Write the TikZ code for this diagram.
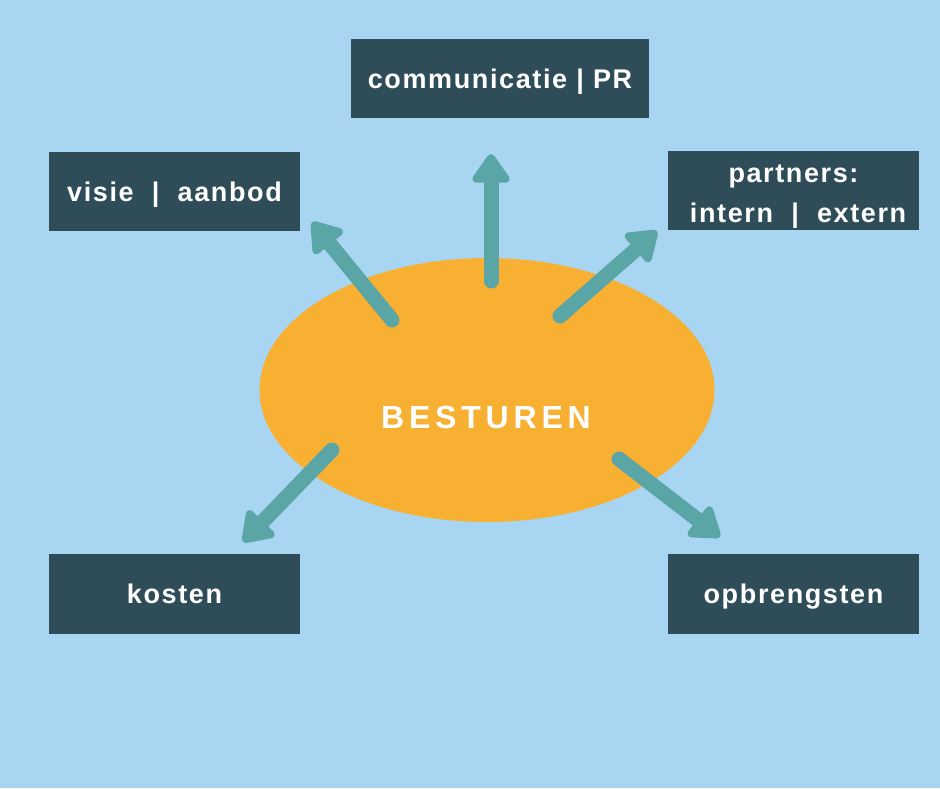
\documentclass[tikz,border=0pt]{standalone}
\usepackage{fontspec}
\setmainfont{Liberation Sans}
\newfontfamily\boxfont[LetterSpace=6]{Liberation Sans}
\newfontfamily\bigfont[LetterSpace=15]{Liberation Sans}
\usetikzlibrary{arrows.meta,shapes.geometric}
\definecolor{bg}{HTML}{A8D6F2}
\definecolor{boxc}{HTML}{2F4D58}
\definecolor{ell}{HTML}{F8B033}
\definecolor{teal}{HTML}{5AA6A6}
\tikzset{
  darkbox/.style={fill=boxc, draw=none, text=white, font=\boxfont\fontsize{27}{40}\selectfont\bfseries, inner sep=0pt, align=center, minimum width=251pt, minimum height=79pt},
  oneline/.style={text height=19.5pt, text depth=0pt},
  arr/.style={draw=teal, line width=15pt, line cap=round, -{Triangle[width=42pt,length=32pt,round]}}
}
\begin{document}
\begin{tikzpicture}[x=1pt,y=-1pt]
\fill[bg] (0,0) rectangle (940,788);
\useasboundingbox (0,0) rectangle (940,788);
\node[fill=ell, ellipse, minimum width=455pt, minimum height=264pt, inner sep=0pt] (ellipse) at (487,390) {};
\node[text=white, font=\bigfont\fontsize{32}{38}\selectfont\bfseries, text height=23pt, text depth=0pt, inner sep=0pt] (lab) at (486,416.5) {BESTUREN};
\node[darkbox, oneline, minimum width=298pt] (comm) at (500,78.5) {communicatie | PR};
\node[darkbox, oneline] (visie) at (174.5,191.5) {visie \ | \ aanbod};
\node[darkbox, text height=64pt, text depth=0pt] (partners) at (793.5,190.5) {partners:\\ \ intern \ | \ extern};
\node[darkbox, oneline, minimum height=80pt] (kosten) at (174.5,594) {kosten};
\node[darkbox, oneline, minimum height=80pt] (opbr) at (793.5,594) {opbrengsten};
\coordinate (t1) at (491,281); \coordinate (h1) at (491,154);
\coordinate (t2) at (392,320); \coordinate (h2) at (312,222);
\coordinate (t3) at (560,316); \coordinate (h3) at (657,231);
\coordinate (t4) at (332,450); \coordinate (h4) at (243,542);
\coordinate (t5) at (619,459); \coordinate (h5) at (720,537);
\draw[arr] (t1) -- (h1);
\draw[arr] (t2) -- (h2);
\draw[arr] (t3) -- (h3);
\draw[arr] (t4) -- (h4);
\draw[arr] (t5) -- (h5);
\end{tikzpicture}
\end{document}
